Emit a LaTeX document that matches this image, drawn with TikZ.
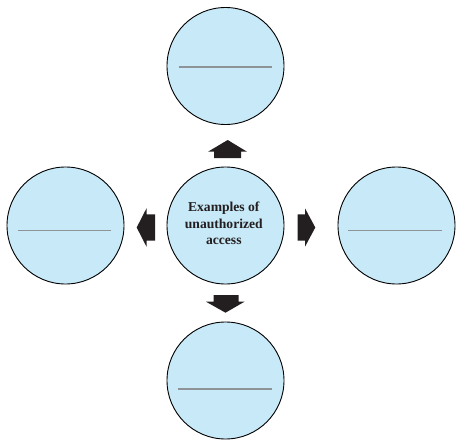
\documentclass[tikz,border=0pt]{standalone}
\usepackage{fontspec}
\setmainfont{Liberation Serif}
\usetikzlibrary{calc}
\definecolor{bubblefill}{HTML}{C8E9F8}
\definecolor{arrowdark}{HTML}{231F20}
\definecolor{slotgray}{HTML}{8E9398}
\tikzset{
  bubble/.style={circle, draw=black, line width=0.9pt, fill=bubblefill, minimum size=117pt, inner sep=0pt},
  slot/.style={draw=slotgray, line width=1.2pt},
  blockarrow/.style={fill=arrowdark, draw=none},
  centertext/.style={align=center, font=\fontsize{13.6}{16.7}\selectfont\bfseries, text=arrowdark}
}
\begin{document}
\begin{tikzpicture}[x=1pt, y=-1pt]
\useasboundingbox (0,0) rectangle (467,448);
\node[bubble] (top) at (225.5,66) {};
\node[bubble] (center) at (225.5,225.5) {};
\node[bubble] (left) at (65.5,225.5) {};
\node[bubble] (right) at (396.5,225.5) {};
\node[bubble] (bottom) at (225.5,380.5) {};
\node[centertext] (label) at (223.8,223.5) {Examples of\\unauthorized\\access};
% blank lines inside the outer circles
\draw[slot] ($(top.center)+(-47,1)$) -- ($(top.center)+(46,1)$);
\draw[slot] ($(left.center)+(-47.5,5.2)$) -- ($(left.center)+(45.5,5.2)$);
\draw[slot] ($(right.center)+(-48.5,5.2)$) -- ($(right.center)+(45.5,5.2)$);
\draw[slot] ($(bottom.center)+(-47.5,8.5)$) -- ($(bottom.center)+(46.5,8.5)$);
% block arrows
\fill[blockarrow] (214,158) -- (214,151.7) -- (208,151.7) -- (227.7,140) -- (247,151.7) -- (241,151.7) -- (241,158) -- cycle;
\fill[blockarrow] (155,214.3) -- (146.5,214.3) -- (146.5,208.3) -- (136.7,227.5) -- (146.5,246.7) -- (146.5,240.7) -- (155,240.7) -- cycle;
\fill[blockarrow] (297.5,214.3) -- (305,214.3) -- (305,208.3) -- (315.3,227.5) -- (305,246.7) -- (305,240.7) -- (297.5,240.7) -- cycle;
\fill[blockarrow] (213.5,295) -- (238.5,295) -- (238.5,301.7) -- (244.5,301.7) -- (225.5,312.7) -- (206,301.7) -- (213.5,301.7) -- cycle;
\end{tikzpicture}
\end{document}
